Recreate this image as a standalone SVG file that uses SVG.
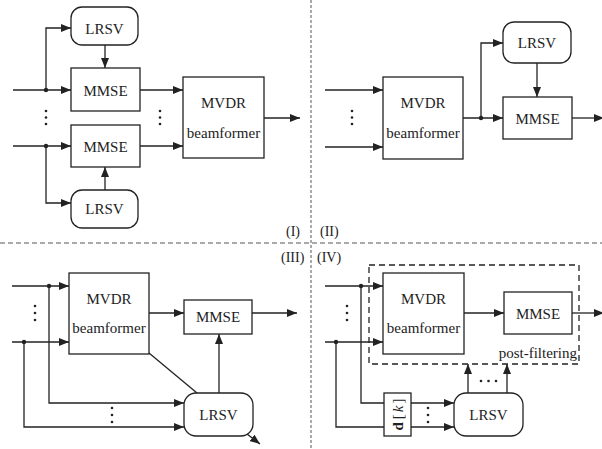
<svg xmlns="http://www.w3.org/2000/svg" width="602" height="449" viewBox="0 0 602 449">
<defs>
<marker id="arr" viewBox="0 0 10 8" refX="10" refY="4" markerWidth="10" markerHeight="8" markerUnits="userSpaceOnUse" orient="auto">
<path d="M0,0 L10,4 L0,8 z" fill="#222"/>
</marker>
<style>
.box{fill:#fff;stroke:#222;stroke-width:1.3}
.t{font-family:"Liberation Serif","Times New Roman",serif;font-size:15px;fill:#222;text-anchor:middle}
.lbl{font-family:"Liberation Serif","Times New Roman",serif;font-size:14px;fill:#222}
.c{fill:none;stroke:#222;stroke-width:1.3}
.a{fill:none;stroke:#222;stroke-width:1.3;marker-end:url(#arr)}
.dot{fill:#222}
.sep{fill:none;stroke:#555;stroke-width:1}
</style>
</defs>
<rect width="602" height="449" fill="#fff"/>

<g id="separators">
<path class="sep" d="M311,0 V449" stroke-dasharray="3,2"/>
<path class="sep" d="M0,243 H602" stroke-dasharray="5,3"/>
</g>

<g id="labels">
<text class="lbl" x="286" y="236">(I)</text>
<text class="lbl" x="320" y="236">(II)</text>
<text class="lbl" x="281" y="262">(III)</text>
<text class="lbl" x="317" y="262">(IV)</text>
</g>

<!-- Quadrant I -->
<g id="I-LRSV-top"><rect class="box" x="71" y="7" width="67" height="38" rx="11"/><text class="t" x="104.5" y="34">LRSV</text></g>
<g id="I-MMSE-top"><rect class="box" x="71" y="68" width="69" height="43"/><text class="t" x="105.5" y="95.5">MMSE</text></g>
<g id="I-MMSE-bottom"><rect class="box" x="71" y="125" width="69" height="42"/><text class="t" x="105.5" y="152">MMSE</text></g>
<g id="I-LRSV-bottom"><rect class="box" x="71" y="190" width="67" height="38" rx="11"/><text class="t" x="104.5" y="214">LRSV</text></g>
<g id="I-MVDR"><rect class="box" x="183" y="77" width="81" height="81"/><text class="t" x="223.5" y="108">MVDR</text><text class="t" x="223.5" y="138">beamformer</text></g>

<!-- Quadrant II -->
<g id="II-MVDR"><rect class="box" x="383" y="77" width="80" height="82"/><text class="t" x="423" y="108">MVDR</text><text class="t" x="423" y="138">beamformer</text></g>
<g id="II-LRSV"><rect class="box" x="503" y="22" width="68" height="41" rx="11"/><text class="t" x="537" y="48">LRSV</text></g>
<g id="II-MMSE"><rect class="box" x="503" y="97" width="69" height="42"/><text class="t" x="537.5" y="124">MMSE</text></g>

<!-- Quadrant III -->
<g id="III-MVDR"><rect class="box" x="69" y="273" width="80" height="81"/><text class="t" x="109" y="303.5">MVDR</text><text class="t" x="109" y="333">beamformer</text></g>
<g id="III-MMSE"><rect class="box" x="184" y="300" width="68" height="34"/><text class="t" x="218" y="322">MMSE</text></g>
<g id="III-LRSV"><rect class="box" x="184" y="393" width="69" height="43" rx="12"/><text class="t" x="218.5" y="420">LRSV</text></g>

<!-- Quadrant IV -->
<g id="IV-postfilter"><rect x="369" y="265" width="210" height="99" fill="none" stroke="#222" stroke-width="1.3" stroke-dasharray="6,4"/><text class="t" x="577" y="358" style="text-anchor:end">post-filtering</text></g>
<g id="IV-MVDR"><rect class="box" x="383" y="273" width="81" height="81"/><text class="t" x="423.5" y="303.5">MVDR</text><text class="t" x="423.5" y="333">beamformer</text></g>
<g id="IV-MMSE"><rect class="box" x="504" y="292" width="68" height="42"/><text class="t" x="538" y="319">MMSE</text></g>
<g id="IV-dk"><rect class="box" x="384" y="393" width="27" height="43"/><text class="t" transform="translate(402.5,414.5) rotate(-90)" x="0" y="0"><tspan font-weight="bold">d</tspan><tspan dx="3">[</tspan><tspan font-style="italic" dx="2">k</tspan><tspan dx="2">]</tspan></text></g>
<g id="IV-LRSV"><rect class="box" x="454" y="393" width="69" height="43" rx="12"/><text class="t" x="488.5" y="420">LRSV</text></g>

<g id="connectors">
<!-- I -->
<path class="a" d="M13,90 H71"/>
<path class="a" d="M46,90 V28 H71"/>
<path class="a" d="M13,146 H71"/>
<path class="a" d="M46,146 V203 H71"/>
<path class="a" d="M105,45 V68"/>
<path class="a" d="M105,190 V167"/>
<path class="a" d="M140,90 H183"/>
<path class="a" d="M140,146 H183"/>
<path class="a" d="M264,118 H300"/>
<circle class="dot" cx="46" cy="90" r="2.2"/>
<circle class="dot" cx="46" cy="146" r="2.2"/>
<circle class="dot" cx="46" cy="111" r="1.3"/><circle class="dot" cx="46" cy="117.5" r="1.3"/><circle class="dot" cx="46" cy="124" r="1.3"/>
<circle class="dot" cx="160" cy="111" r="1.3"/><circle class="dot" cx="160" cy="117.5" r="1.3"/><circle class="dot" cx="160" cy="124" r="1.3"/>
<!-- II -->
<path class="a" d="M325,90 H383"/>
<path class="a" d="M325,147 H383"/>
<path class="a" d="M463,118 H503"/>
<path class="a" d="M481,118 V43 H503"/>
<path class="a" d="M537,63 V97"/>
<path class="a" d="M572,118 H604"/>
<circle class="dot" cx="481" cy="118" r="2.2"/>
<circle class="dot" cx="352" cy="111" r="1.3"/><circle class="dot" cx="352" cy="117.5" r="1.3"/><circle class="dot" cx="352" cy="124" r="1.3"/>
<!-- III -->
<path class="a" d="M12,286 H69"/>
<path class="a" d="M12,342 H69"/>
<path class="a" d="M49,286 V403 H184"/>
<path class="a" d="M24,342 V427 H184"/>
<path class="a" d="M149,313 H184"/>
<path class="a" d="M252,313 H297"/>
<path class="a" d="M219,393 V334"/>
<path class="c" d="M149,353 L197,393"/>
<path class="a" d="M247,434 L260,444"/>
<circle class="dot" cx="49" cy="286" r="2.2"/>
<circle class="dot" cx="24" cy="342" r="2.2"/>
<circle class="dot" cx="35" cy="306" r="1.3"/><circle class="dot" cx="35" cy="313" r="1.3"/><circle class="dot" cx="35" cy="320" r="1.3"/>
<circle class="dot" cx="112" cy="408" r="1.3"/><circle class="dot" cx="112" cy="415" r="1.3"/><circle class="dot" cx="112" cy="422" r="1.3"/>
<!-- IV -->
<path class="a" d="M325,286 H383"/>
<path class="a" d="M325,342 H383"/>
<path class="c" d="M361,286 V403 H384"/>
<path class="c" d="M336,342 V427 H384"/>
<path class="a" d="M411,403 H454"/>
<path class="a" d="M411,427 H454"/>
<path class="a" d="M468,393 V364"/>
<path class="a" d="M507,393 V364"/>
<path class="a" d="M464,313 H504"/>
<path class="a" d="M572,313 H604"/>
<circle class="dot" cx="361" cy="286" r="2.2"/>
<circle class="dot" cx="336" cy="342" r="2.2"/>
<circle class="dot" cx="347" cy="306" r="1.3"/><circle class="dot" cx="347" cy="313" r="1.3"/><circle class="dot" cx="347" cy="320" r="1.3"/>
<circle class="dot" cx="428" cy="408" r="1.3"/><circle class="dot" cx="428" cy="415" r="1.3"/><circle class="dot" cx="428" cy="422" r="1.3"/>
<circle class="dot" cx="481" cy="381" r="1.3"/><circle class="dot" cx="488.5" cy="381" r="1.3"/><circle class="dot" cx="496" cy="381" r="1.3"/>
</g>
</svg>
